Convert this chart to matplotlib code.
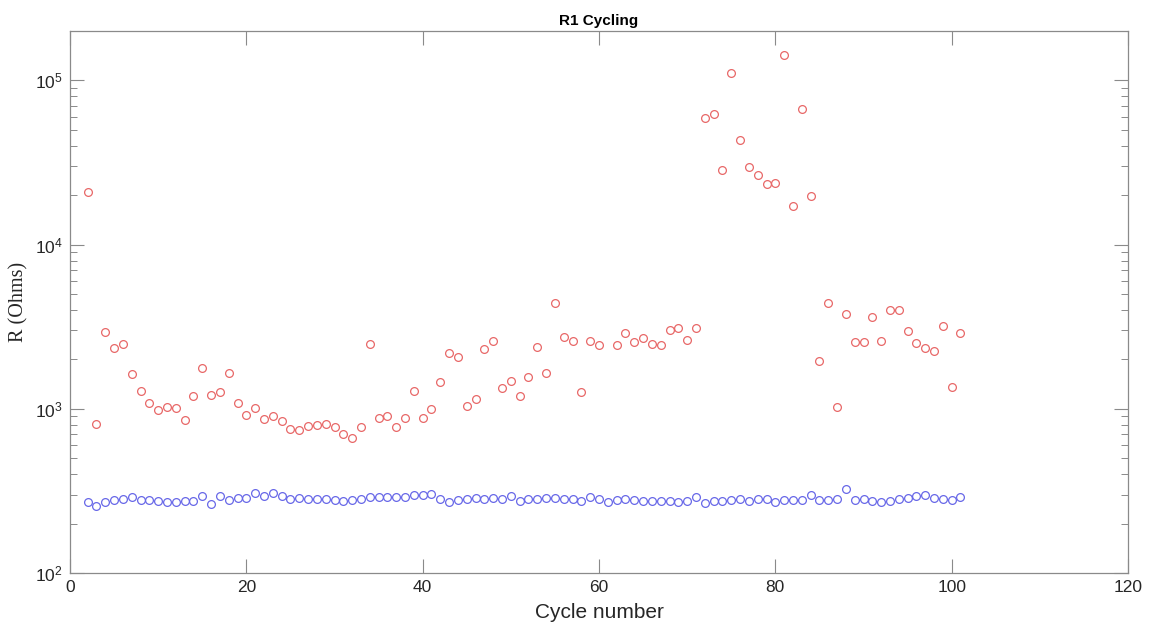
import numpy as np
import matplotlib
matplotlib.use("Agg")
import matplotlib.pyplot as plt
from matplotlib.ticker import LogLocator, NullFormatter

plt.rcParams["font.family"] = ["Liberation Sans", "DejaVu Sans"]
plt.rcParams["mathtext.fontset"] = "custom"
plt.rcParams["mathtext.rm"] = "Liberation Sans"
plt.rcParams["mathtext.default"] = "regular"

cycles = list(range(2, 102))

# High-resistance state (red), NaN where no point is visible
r_high = [20800, 807, 2930, 2330, 2490, 1620, 1292, 1092, 978, 1028,
          1018, 853, 1194, 1770, 1216, 1265, 1656, 1087, 916, 1018,
          866, 906, 845, 755, 748, 788, 800, 811, 780, 698,
          668, 776, 2477, 873, 910, 780, 878, 1288, 885, 996,
          1459, 2200, 2066, 1043, 1140, 2307, 2584, 1330, 1480, 1189,
          1566, 2383, 1656, 4393, 2754, 2605, 1257, 2595, 2455, np.nan,
          2460, 2903, 2547, 2690, 2490, 2460, 3027, 3110, 2618, 3097,
          59000, 62600, 28600, 111000, 43500, 29600, 26400, 23400, 23800, 143000,
          17300, 67000, 19700, 1968, 4393, 1028, 3785, 2535, 2557, 3647,
          2595, 3990, 3990, 2972, 2522, 2330, 2254, 3200, 1361, 2892]

# Low-resistance state (blue)
r_low = [272, 256, 272, 279, 284, 291, 278, 278, 274, 269,
         269, 273, 274, 295, 265, 295, 279, 287, 287, 305,
         296, 305, 296, 284, 287, 282, 281, 282, 278, 276,
         278, 281, 290, 290, 290, 290, 289, 300, 300, 303,
         281, 272, 278, 284, 287, 283, 287, 284, 294, 274,
         281, 282, 287, 287, 284, 282, 276, 290, 281, 272,
         278, 284, 278, 273, 273, 274, 274, 270, 273, 291,
         268, 274, 273, 279, 283, 274, 281, 281, 272, 279,
         279, 278, 300, 279, 278, 284, 324, 279, 282, 276,
         270, 276, 281, 286, 296, 300, 287, 282, 278, 289]

x_ticks = [0, 20, 40, 60, 80, 100, 120]

fig = plt.figure(figsize=(11.5, 6.3), dpi=100)
ax = fig.add_axes([70/1150, 1 - 573/630, (1128-70)/1150, (573-31)/630])

ax.plot(cycles, r_high, linestyle="none", marker="o", markersize=5.6,
        markerfacecolor="none", markeredgecolor="#E86868", markeredgewidth=0.9)
ax.plot(cycles, r_low, linestyle="none", marker="o", markersize=5.6,
        markerfacecolor="none", markeredgecolor="#6868E8", markeredgewidth=0.9)

ax.set_yscale("log")
ax.set_xlim(0, 120)
ax.set_ylim(1e2, 2e5)
ax.set_xticks(x_ticks)
ax.set_xticklabels([str(t) for t in x_ticks])
ax.yaxis.set_major_locator(LogLocator(base=10, numticks=10))
ax.yaxis.set_minor_locator(LogLocator(base=10, subs=np.arange(2, 10), numticks=20))
ax.yaxis.set_minor_formatter(NullFormatter())

for s in ax.spines.values():
    s.set_color("#8a8a8a")
    s.set_linewidth(0.9)

ax.tick_params(axis="both", which="major", direction="in", length=10, width=0.8,
               color="#8a8a8a", labelsize=12.5, labelcolor="#262626",
               top=True, right=True, pad=5)
ax.tick_params(axis="y", which="minor", direction="in", length=5, width=0.7,
               color="#8a8a8a", left=True, right=True)

ax.set_xlabel("Cycle number", fontsize=15, color="#262626", labelpad=6)
ax.set_ylabel("R (Ohms)", fontsize=14.5, family=["Liberation Serif", "DejaVu Serif"],
              color="#262626", labelpad=5)
ax.set_title("R1 Cycling", fontsize=11, fontweight="bold", pad=4)

fig.savefig("out.png", dpi=100)
